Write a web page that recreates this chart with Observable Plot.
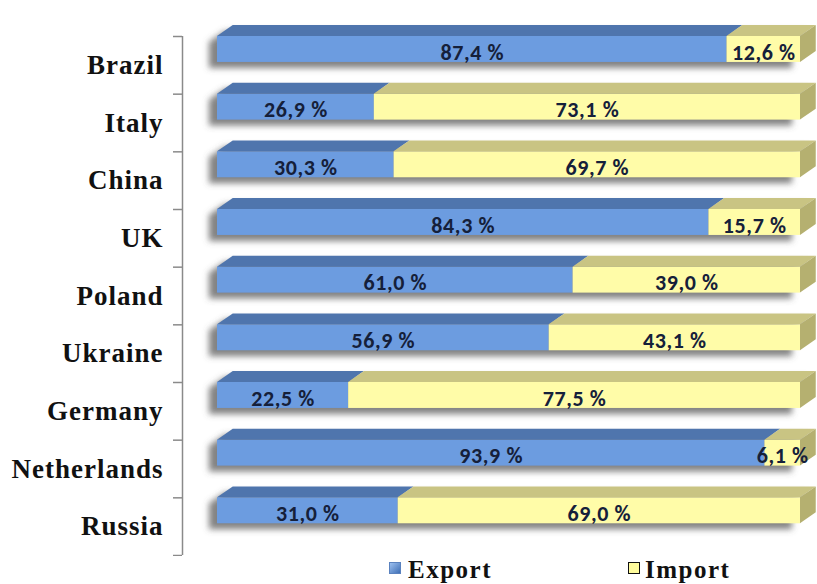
<!DOCTYPE html>
<html>
<head>
<meta charset="utf-8">
<script src="https://cdn.jsdelivr.net/npm/d3@7"></script>
<script src="https://cdn.jsdelivr.net/npm/@observablehq/plot@0.6"></script>
<style>
  html, body { margin: 0; padding: 0; background: #fff; }
  #wrap { position: relative; width: 817px; height: 584px; overflow: hidden; }
  #legend { position: absolute; left: 0; top: 556px; width: 817px; height: 28px; color: #111; }
  #legend .item { position: absolute; top: 0; line-height: 28px; white-space: nowrap; }
  #legend .sw { position: absolute; top: 6px; width: 12px; height: 12px; box-sizing: border-box; }
</style>
</head>
<body>
<div id="wrap">
  <div id="chart"></div>
  <div id="legend"></div>
</div>
<script>
// ---- data ----
const countries = ["Brazil", "Italy", "China", "UK", "Poland", "Ukraine", "Germany", "Netherlands", "Russia"];
const exportShare = [87.4, 26.9, 30.3, 84.3, 61.0, 56.9, 22.5, 93.9, 31.0];
const importShare = [12.6, 73.1, 69.7, 15.7, 39.0, 43.1, 77.5, 6.1, 69.0];
const seriesNames = ["Export", "Import"];

// ---- styling constants ----
const frontColor = { Export: "#6c9ce0", Import: "#fffca8" };
const topColor = { Export: "#4f75ad", Import: "#c9c483" };
const sideColor = "#b5b070";
const FRONT = 0.45;   // front face height (row units)
const TOP = 0.19;     // top face depth (row units)
const DX = 2.7;       // depth shift in x units
const SERIF = "'Liberation Serif', 'Times New Roman', Tinos, serif";

const segments = countries.flatMap((c, i) => [
  { country: c, row: i, series: "Export", a: 0, b: exportShare[i], v: exportShare[i] },
  { country: c, row: i, series: "Import", a: exportShare[i], b: exportShare[i] + importShare[i], v: importShare[i] }
]);
const topFaces = segments.flatMap(s => [
  { key: s.country + s.series, series: s.series, y: s.row, x1: s.a, x2: s.b },
  { key: s.country + s.series, series: s.series, y: s.row - TOP, x1: s.a + DX, x2: s.b + DX }
]);
const sideFaces = countries.flatMap((c, i) => {
  const end = exportShare[i] + importShare[i];
  return [
    { key: c, x: end, y1: i, y2: i + FRONT },
    { key: c, x: end + DX, y1: i - TOP, y2: i + FRONT - TOP }
  ];
});
const silhouettes = countries.flatMap((c, i) => {
  const end = exportShare[i] + importShare[i];
  return [
    { key: c, y: i + FRONT, x1: 0, x2: end },
    { key: c, y: i, x1: 0, x2: end },
    { key: c, y: i - TOP, x1: DX, x2: end + DX }
  ];
});
const fmt = v => v.toFixed(1).replace(".", ",") + " %";

const chart = Plot.plot({
  width: 817,
  height: 556,
  marginTop: 36,
  marginBottom: 1,
  marginLeft: 182,
  marginRight: 17,
  style: { fontFamily: SERIF },
  x: { domain: [0, 100], insetLeft: 35, axis: null },
  y: { domain: [0, countries.length], reverse: true, axis: null },
  marks: [
    Plot.areaX(silhouettes, { y: "y", x1: "x1", x2: "x2", z: "key", fill: "#5a5a5a", fillOpacity: 0.75, dx: -8, dy: 6, ariaDescription: "shadow" }),
    ...seriesNames.map(s => Plot.rect(segments.filter(d => d.series === s), {
      x1: "a", x2: "b", y1: d => d.row, y2: d => d.row + FRONT, fill: frontColor[s]
    })),
    ...seriesNames.map(s => Plot.areaX(topFaces.filter(d => d.series === s), {
      y: "y", x1: "x1", x2: "x2", z: "key", fill: topColor[s]
    })),
    Plot.areaY(sideFaces, { x: "x", y1: "y1", y2: "y2", z: "key", fill: sideColor }),
    Plot.text(segments, {
      x: d => (d.a + d.b) / 2, y: d => d.row + FRONT / 2, text: d => fmt(d.v), dy: 3,
      fontSize: 22, fontWeight: "bold", fontFamily: "Carlito", fill: "#15203a"
    }),
    Plot.ruleX([0], { y1: 0, y2: countries.length, dx: -35, stroke: "#8a8a8a", strokeWidth: 1.5 }),
    Plot.axisY(d3.range(0, countries.length + 1), {
      tickSize: 9, tickFormat: () => "", stroke: "#8a8a8a", strokeWidth: 1.5, label: null
    }),
    Plot.axisY(d3.range(countries.length).map(i => i + 0.5), {
      tickSize: 0, tickPadding: 19, tickFormat: d => countries[Math.floor(d)], label: null,
      fontSize: 27, fontWeight: "bold", fontFamily: SERIF, fill: "#111"
    })
  ]
});
document.getElementById("chart").appendChild(chart);

const svg = d3.select(chart);
// fonts applied directly on the text elements
svg.selectAll("text").each(function () {
  const t = d3.select(this);
  const label = t.text();
  if (countries.includes(label)) {
    t.attr("font-family", SERIF).style("font-family", SERIF).style("font-weight", "bold")
     .style("font-size", "27px").style("letter-spacing", "1px");
  } else if (label.includes("%")) {
    t.style("font-family", "Carlito").style("font-weight", "bold").style("font-size", "22px").style("letter-spacing", "0.6px");
  }
});

// blur filter for the shadow
const defs = svg.insert("defs", ":first-child");
defs.append("filter").attr("id", "shadowBlur").attr("x", "-20%").attr("y", "-50%").attr("width", "140%").attr("height", "200%")
  .append("feGaussianBlur").attr("stdDeviation", 3);
svg.selectAll('g[aria-description="shadow"]').attr("filter", "url(#shadowBlur)");

// legend
const legend = d3.select("#legend");
const items = [
  { name: "Export", sw: 389, tx: 408, bg: "linear-gradient(135deg, #9cc0f0, #3f6fb5)", border: "1px solid #5a82bf" },
  { name: "Import", sw: 628, tx: 645, bg: "#fffc9c", border: "1.5px solid #111" }
];
items.forEach(it => {
  legend.append("div").attr("class", "sw").style("left", it.sw + "px").style("background", it.bg).style("border", it.border);
  legend.append("div").attr("class", "item").style("left", it.tx + "px")
    .attr("style", `left:${it.tx}px;font-family:${SERIF};font-weight:bold;font-size:25px;letter-spacing:1.5px`)
    .text(it.name);
});
</script>
</body>
</html>
